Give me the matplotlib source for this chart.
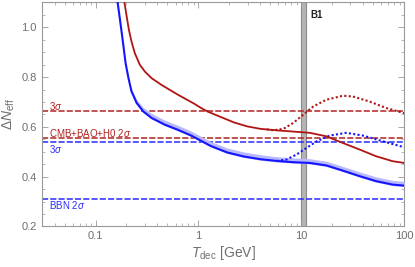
import numpy as np
import matplotlib
matplotlib.use("Agg")
import matplotlib.pyplot as plt
from matplotlib.ticker import FixedLocator, NullFormatter, MultipleLocator

plt.rcParams['font.family'] = ['Liberation Sans', 'DejaVu Sans']
plt.rcParams['mathtext.fontset'] = 'custom'
plt.rcParams['mathtext.it'] = 'Liberation Sans:italic'
plt.rcParams['mathtext.rm'] = 'Liberation Sans'

red_x = [0.191, 0.201, 0.211, 0.224, 0.241, 0.270, 0.302, 0.350, 0.436, 0.633, 0.91,
         1.06, 1.22, 1.64, 2.21, 2.97, 4.0, 5.78, 8.37, 12.1, 17.5, 25.4, 36.8, 53.2,
         77.1, 100]
red_y = [1.10, 1.043, 0.990, 0.942, 0.896, 0.849, 0.822, 0.796, 0.769, 0.729, 0.693,
         0.676, 0.662, 0.640, 0.618, 0.602, 0.592, 0.586, 0.581, 0.576, 0.562, 0.535,
         0.509, 0.482, 0.462, 0.455]

red_dot_x = [4.6, 5.37, 6.7, 8.37, 10.45, 13.1, 17.5, 25.4, 31.7, 45.9, 66.5, 100]
red_dot_y = [0.590, 0.586, 0.592, 0.616, 0.649, 0.682, 0.709, 0.725, 0.722, 0.702, 0.676, 0.655]

blue_x = [0.164, 0.173, 0.180, 0.187, 0.196, 0.209, 0.224, 0.251, 0.291, 0.350, 0.470,
          0.633, 0.851, 1.06, 1.32, 1.91, 2.76, 4.0, 5.78, 8.37, 12.1, 17.5, 25.4,
          36.8, 53.2, 77.1, 100]
blue_y = [1.10, 1.03, 0.976, 0.923, 0.856, 0.796, 0.742, 0.696, 0.662, 0.636, 0.609,
          0.588, 0.565, 0.544, 0.523, 0.497, 0.481, 0.470, 0.463, 0.458, 0.455, 0.445,
          0.424, 0.402, 0.382, 0.368, 0.364]

band_x = [0.224, 0.251, 0.291, 0.350, 0.470, 0.633, 0.851, 1.06, 1.32, 1.91, 2.76,
          4.0, 5.78, 8.37, 12.1, 17.5, 25.4, 36.8, 53.2, 77.1, 100]
band_lo = [0.740, 0.693, 0.658, 0.632, 0.605, 0.584, 0.561, 0.540, 0.519, 0.493, 0.477,
           0.466, 0.459, 0.454, 0.451, 0.441, 0.420, 0.398, 0.378, 0.364, 0.360]
band_hi = [0.752, 0.710, 0.678, 0.654, 0.627, 0.606, 0.583, 0.562, 0.541, 0.515, 0.499,
           0.488, 0.480, 0.475, 0.472, 0.462, 0.441, 0.419, 0.399, 0.385, 0.381]

blue_dot_x = [5.78, 7.2, 9.0, 11.2, 14.1, 18.9, 27.3, 39.6, 57.4, 100]
blue_dot_y = [0.463, 0.469, 0.489, 0.515, 0.542, 0.565, 0.576, 0.565, 0.546, 0.518]

hlines = [0.663, 0.554, 0.539, 0.311]
hline_colors = ['#b22222', '#b22222', '#2a2aff', '#2a2aff']
labels = ['3$\\sigma$', 'CMB+BAO+H0 2$\\sigma$', '3$\\sigma$', 'BBN 2$\\sigma$']
label_y = [0.683, 0.576, 0.512, 0.285]

b1_band = (10.0, 11.0)

RED = '#b01414'
BLUE = '#1414ff'
GRAY = '#6e6e6e'

fig = plt.figure(figsize=(4.15, 2.67), dpi=100)
ax = fig.add_axes([0.1005, 0.152, 0.8735, 0.839])

ax.axvspan(b1_band[0], b1_band[1], facecolor='#b4b4b4', edgecolor='#8c8c8c', lw=0.8, zorder=1)

for y, c in zip(hlines, hline_colors):
    ax.axhline(y, color=c, lw=1.1, ls=(0, (4, 1.4)), zorder=2)
for y, t, c in zip(label_y, labels, hline_colors):
    ax.text(0.0355, y, t, color=c, fontsize=7, va='center', ha='left')

ax.fill_between(band_x, band_lo, band_hi, color='#b8b8ff', lw=0, zorder=3)
ax.plot(blue_x, blue_y, color=BLUE, lw=1.5, zorder=4)
ax.plot(blue_dot_x, blue_dot_y, color=BLUE, lw=1.5, ls=(0, (1, 1.1)), zorder=4)
ax.plot(red_x, red_y, color=RED, lw=1.3, zorder=4)
ax.plot(red_dot_x, red_dot_y, color=RED, lw=1.5, ls=(0, (1, 1.1)), zorder=4)

ax.text(12.3, 1.05, 'B1', fontsize=7, fontweight='bold', color='#222222', va='center')

ax.set_xscale('log')
ax.set_xlim(0.03, 100)
ax.set_ylim(0.2, 1.1)

ax.xaxis.set_major_locator(FixedLocator([0.1, 1, 10, 100]))
ax.set_xticklabels(['0.1', '1', '10', '100'])
ax.xaxis.set_minor_locator(FixedLocator([m * 10.0 ** e for e in range(-2, 2) for m in range(2, 10)]))
ax.xaxis.set_minor_formatter(NullFormatter())
ax.yaxis.set_major_locator(MultipleLocator(0.2))
ax.yaxis.set_minor_locator(MultipleLocator(0.05))

ax.tick_params(which='both', direction='in', top=True, right=True, colors='#999999',
               labelcolor=GRAY, labelsize=8)
ax.tick_params(which='major', length=4, width=0.6)
ax.tick_params(which='minor', length=2, width=0.5)
for s in ax.spines.values():
    s.set_color('#999999')
    s.set_linewidth(0.8)

ax.set_xlabel('$T_{\\rm dec}$ [GeV]', fontsize=10, color=GRAY, labelpad=2)
ax.set_ylabel('$\\Delta N_{\\rm eff}$', fontsize=10, color=GRAY, labelpad=3)

fig.savefig('out.png', dpi=100)
